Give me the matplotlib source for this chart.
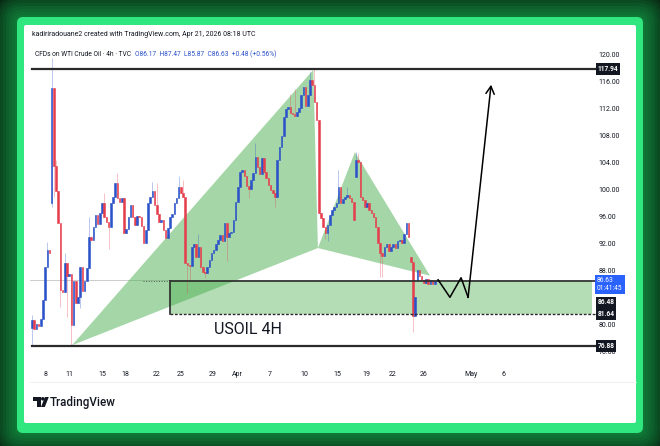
import matplotlib.pyplot as plt
import matplotlib.patches as mpatches
import matplotlib.transforms as mtransforms
import numpy as np

plt.rcParams['font.family'] = ['Roboto', 'DejaVu Sans']

# 4h closes (one per candle)
closes = [
    80.8, 79.4, 80.2, 79.8, 80.9, 83.7, 88.6, 91.1, 90.6, 115.1,
    103.5, 99.8, 95.1, 85.2, 84.9, 89.2, 87.2, 87.6, 80.0, 86.5,
    83.2, 84.2, 88.6, 85.0, 86.5, 88.4, 93.0, 92.6, 94.5, 96.3,
    95.0, 96.6, 98.0, 96.0, 95.3, 94.5, 98.0, 99.0, 101.0, 98.8,
    98.2, 98.8, 93.6, 94.2, 96.0, 97.8, 96.0, 94.8, 96.2, 96.0,
    94.6, 92.2, 94.0, 98.0, 99.0, 99.8, 97.8, 96.5, 95.2, 95.6,
    94.0, 92.9, 94.3, 96.0, 96.5, 98.0, 98.8, 100.4, 99.6, 99.0,
    89.2, 88.9, 88.8, 91.6, 92.0, 90.0, 91.6, 88.6, 87.8, 87.7,
    88.6, 89.6, 90.6, 91.1, 92.0, 92.6, 93.3, 92.4, 95.1, 93.0,
    93.6, 93.8, 95.6, 98.2, 100.4, 102.6, 103.0, 102.0, 100.6, 100.2,
    101.5, 102.5, 104.9, 103.4, 102.4, 104.8, 102.6, 101.8, 100.8, 100.0,
    99.5, 99.0, 104.4, 106.4, 108.0, 110.8, 112.0, 112.3, 111.4, 111.2,
    111.0, 111.5, 112.2, 114.0, 115.3, 112.5, 114.0, 116.3, 115.6, 113.0,
    110.4, 96.6, 95.8, 94.5, 93.6, 94.8, 96.3, 97.0, 97.5, 98.0,
    100.4, 98.0, 98.6, 98.9, 99.2, 98.8, 98.2, 95.6, 104.4, 104.2,
    99.0, 98.5, 97.5, 98.0, 97.0, 96.6, 96.0, 94.5, 92.1, 90.6,
    90.2, 91.5, 92.0, 91.0, 91.6, 92.0, 91.4, 92.4, 92.6, 92.2,
    93.5, 95.1, 93.0, 89.3, 81.4, 84.1, 88.1, 87.3, 86.6, 86.2,
    86.8, 86.0, 86.6, 86.1, 86.5, 86.63,
]
# candles that open away from the previous close (gaps)
gap_opens = {0: 79.5, 9: 98.0, 148: 101.9, 173: 90.0, 176: 86.6}
# visible wick extremes
wick_highs = {0: 81.5, 7: 92.3, 9: 119.5, 11: 104.5, 15: 90.6, 26: 96.0, 33: 99.5,
              39: 102.5, 55: 101.2, 57: 101.0, 67: 102.0, 69: 101.5, 76: 93.5,
              102: 107.0, 118: 114.2, 120: 115.0, 127: 117.5, 129: 117.9, 140: 103.0,
              144: 100.5, 148: 105.6, 149: 105.5}
wick_lows = {0: 77.0, 9: 97.5, 10: 99.0, 13: 82.7, 16: 81.2, 18: 77.0, 22: 82.5,
             35: 91.2, 71: 84.7, 72: 86.5, 79: 87.0, 89: 89.5, 99: 98.8, 111: 97.5,
             134: 92.8, 135: 92.5, 159: 87.1, 160: 87.1, 174: 79.0}

date_labels = ['8', '11', '15', '18', '22', '25', '29', 'Apr', '7', '10', '15', '19', '22', '26', 'May', '6']
date_pos = [6.4, 16.9, 32.0, 42.5, 57.1, 68.0, 82.6, 93.6, 108.7, 124.2, 139.3, 152.6, 164.5, 179.1, 200.6, 215.2]

# 84.00 is hidden behind the zone labels on the original scale
price_ticks = [76, 80, 88, 92, 96, 100, 104, 108, 112, 116, 120]
level_top = 117.94
level_bottom = 76.88
zone_hi = 86.48
zone_lo = 81.64
zone_start = 63.0
zone_guide_start = 50.7
last_price = 86.63
countdown = '01:41:45'

# harmonic pattern X, A, B, C, D
pattern_x = [18.3, 128.5, 130.6, 147.5, 181.8]
pattern_y = [77.0, 117.8, 91.4, 105.6, 87.3]

# projected path
path_x = [185.5, 190.9, 196.0, 199.2, 209.7]
path_y = [86.7, 84.1, 87.0, 84.1, 115.6]

UP = '#2b52c9'
DOWN = '#e53f4e'

fig = plt.figure(figsize=(6.6, 4.46), dpi=100, facecolor='#05190c')

# ---- background frame (pixel coords) ----
bg = fig.add_axes([0, 0, 1, 1])
bg.set_xlim(0, 660)
bg.set_ylim(446, 0)
bg.axis('off')
for k in range(9):
    p = 2 + k * 3
    bg.add_patch(mpatches.FancyBboxPatch((17 - p, 17 - p), 626 + 2 * p, 416 + 2 * p,
                                         boxstyle=f'round,pad=0,rounding_size={6 + p}',
                                         fc='#24e36c', ec='none', alpha=0.07))
bg.add_patch(mpatches.FancyBboxPatch((17, 17), 626, 416, boxstyle='round,pad=0,rounding_size=6',
                                     fc='#30e67e', ec='none'))
bg.add_patch(mpatches.FancyBboxPatch((24, 25), 612, 398, boxstyle='round,pad=0,rounding_size=2',
                                     fc='white', ec='none'))
bg.plot([30, 636], [382, 382], color='#ececec', lw=0.6)

bg.text(32, 35, 'kadiriradouane2 created with TradingView.com, Apr 21, 2026 08:18 UTC',
        fontsize=5, color='#131722', va='center')
t1 = bg.text(35, 54, 'CFDs on WTI Crude Oil \u00b7 4h \u00b7 TVC', fontsize=4.8, color='#131722', va='center')
bg.annotate('O86.17  H87.47  L85.87  C86.63  +0.48 (+0.56%)', xy=(1, 0.5), xycoords=t1,
            xytext=(3, 0), textcoords='offset points', fontsize=4.8, color='#2b52c9',
            va='center', ha='left')

# TradingView logo
bg.add_patch(mpatches.Polygon([(33, 397), (40.5, 397), (40.5, 407), (37, 407), (37, 400.5), (33, 400.5)],
                              closed=True, fc='#131722', ec='none'))
bg.add_patch(mpatches.Circle((42.8, 398.8), 1.8, fc='#131722', ec='none'))
bg.add_patch(mpatches.Polygon([(45, 397), (48.8, 397), (44.8, 407), (41, 407)],
                              closed=True, fc='#131722', ec='none'))
bg.text(49.5, 402.5, 'TradingView', fontsize=8.4, color='#131722', va='center', fontweight='medium')

# ---- chart ----
ax = fig.add_axes([30 / 660, (446 - 358) / 446, 562 / 660, (358 - 45) / 446])
ax.set_facecolor('none')
xr = 255.8
ax.set_xlim(-0.91, xr)
ax.set_ylim(75.11, 121.48)

n = len(closes)
idx = np.arange(n)
c = np.array(closes)
o = np.array([gap_opens.get(i, closes[i - 1] if i > 0 else closes[0]) for i in range(n)])
hi = np.array([wick_highs.get(i, max(o[i], c[i])) for i in range(n)])
lo = np.array([wick_lows.get(i, min(o[i], c[i])) for i in range(n)])
up = c >= o
col = np.where(up, UP, DOWN)

# zone
ax.add_patch(mpatches.Rectangle((zone_start, zone_lo), xr - zone_start, zone_hi - zone_lo,
                                fc='#4caf50', alpha=0.42, ec='none', zorder=1))
# pattern triangles
ax.add_patch(mpatches.Polygon(list(zip(pattern_x[:3], pattern_y[:3])), closed=True,
                              fc='#4caf50', alpha=0.5, ec='none', zorder=1))
ax.add_patch(mpatches.Polygon(list(zip(pattern_x[2:], pattern_y[2:])), closed=True,
                              fc='#4caf50', alpha=0.5, ec='none', zorder=1))

ax.axhline(last_price, color='#c4c4c4', lw=0.6, zorder=0.5)

ax.vlines(idx, lo, hi, colors=col, lw=0.5, alpha=0.45, zorder=2)
ax.bar(idx, np.abs(c - o), bottom=np.minimum(o, c), width=0.72, color=col,
       edgecolor=col, linewidth=0.4, zorder=3)

ext = xr + 2.3
ax.plot([0, ext], [level_top] * 2, color='#2a2a2a', lw=1.6, clip_on=False, zorder=4)
ax.plot([0, ext], [level_bottom] * 2, color='#2a2a2a', lw=1.6, clip_on=False, zorder=4)
ax.plot([zone_start, ext], [zone_hi] * 2, color='#2a2a2a', lw=1.2, clip_on=False, zorder=4)
ax.plot([zone_start, ext], [zone_lo] * 2, color='#2a2a2a', lw=1.0, ls=(0, (2, 1.2)),
        clip_on=False, zorder=4)
ax.plot([zone_start] * 2, [zone_lo, zone_hi], color='#2a2a2a', lw=1.2, zorder=4)
ax.plot([zone_guide_start, zone_start], [zone_hi] * 2, color='#555555', lw=0.7, ls=':', zorder=4)

ax.plot(path_x[:-1], path_y[:-1], color='black', lw=1.1, zorder=5)
ax.annotate('', xy=(path_x[-1], path_y[-1]), xytext=(path_x[-2], path_y[-2]),
            arrowprops=dict(arrowstyle='->,head_length=0.55,head_width=0.3', lw=1.1,
                            color='black', shrinkA=0, shrinkB=0), zorder=5)

ax.text(98.7, 79.3, 'USOIL 4H', fontsize=11.5, color='#131722', ha='center', va='center', zorder=5)

# axes styling
for s in ax.spines.values():
    s.set_visible(False)
ax.yaxis.tick_right()
ax.set_yticks(price_ticks, [f'{v:.2f}' for v in price_ticks])
ax.tick_params(axis='y', length=0, pad=4.5, labelsize=5, labelcolor='#131722')
ax.set_xticks(date_pos, date_labels)
ax.tick_params(axis='x', length=0, pad=9, labelsize=5, labelcolor='#131722')

# price scale labels
tr = mtransforms.blended_transform_factory(ax.transAxes, ax.transData)
box = dict(boxstyle='square,pad=0.28', fc='#131722', ec='none')
for val, y in [(level_top, level_top), (zone_hi, 83.35), (zone_lo, zone_lo), (level_bottom, level_bottom)]:
    ax.text(1.01, y, f'{val:.2f}', transform=tr, fontsize=4.8, color='white', fontweight='bold',
            va='center', ha='left', bbox=box, clip_on=False, zorder=6)
ax.text(1.009, 86.0, f'{last_price:.2f}\n{countdown}', transform=tr, fontsize=4.8, color='white',
        va='center', ha='left', linespacing=1.1,
        bbox=dict(boxstyle='square,pad=0.3', fc='#2962ff', ec='none'), clip_on=False, zorder=6)

fig.savefig('out.png', dpi=100, facecolor=fig.get_facecolor())
